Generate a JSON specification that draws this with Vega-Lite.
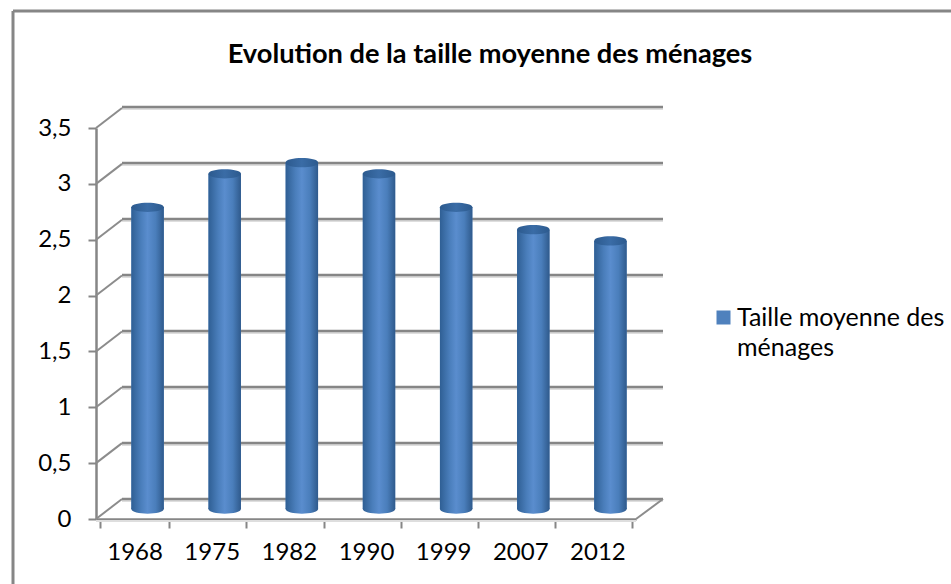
{"$schema":"https://vega.github.io/schema/vega-lite/v6.json","width":938,"height":573,"autosize":{"type":"none"},"padding":{"left":13,"top":11,"right":0,"bottom":0},"background":"white","view":{"stroke":null},
"title":{"text":"Evolution de la taille moyenne des ménages","font":"Lato","fontWeight":"bold","fontSize":27.2,"color":"#000000","anchor":"middle","dx":8,"offset":-81,"baseline":"alphabetic"},
"datasets":{
"bars":[{"annee":"1968","taille":2.7,"serie":"Taille moyenne des ménages"},{"annee":"1975","taille":3.0,"serie":"Taille moyenne des ménages"},{"annee":"1982","taille":3.1,"serie":"Taille moyenne des ménages"},{"annee":"1990","taille":3.0,"serie":"Taille moyenne des ménages"},{"annee":"1999","taille":2.7,"serie":"Taille moyenne des ménages"},{"annee":"2007","taille":2.5,"serie":"Taille moyenne des ménages"},{"annee":"2012","taille":2.4,"serie":"Taille moyenne des ménages"}],
"grille":[{"niveau":0},{"niveau":0.5},{"niveau":1},{"niveau":1.5},{"niveau":2},{"niveau":2.5},{"niveau":3},{"niveau":3.5}],
"mur":[{"niveau":0,"prof":0,"haut":0},{"niveau":0,"prof":1,"haut":0.179},{"niveau":0.5,"prof":0,"haut":0.5},{"niveau":0.5,"prof":1,"haut":0.679},{"niveau":1,"prof":0,"haut":1},{"niveau":1,"prof":1,"haut":1.179},{"niveau":1.5,"prof":0,"haut":1.5},{"niveau":1.5,"prof":1,"haut":1.679},{"niveau":2,"prof":0,"haut":2},{"niveau":2,"prof":1,"haut":2.179},{"niveau":2.5,"prof":0,"haut":2.5},{"niveau":2.5,"prof":1,"haut":2.679},{"niveau":3,"prof":0,"haut":3},{"niveau":3,"prof":1,"haut":3.179},{"niveau":3.5,"prof":0,"haut":3.5},{"niveau":3.5,"prof":1,"haut":3.679}],
"sol":[{"prof":0,"haut":0},{"prof":1,"haut":0.179}]
},
"resolve":{"scale":{"x":"independent","y":"independent","color":"independent"},"axis":{"x":"independent","y":"independent"}},
"layer":[
{"data":{"values":[{"k":0}]},"mark":{"type":"rule","stroke":"#868686","strokeWidth":3},"encoding":{"x":{"datum":0,"type":"quantitative","scale":{"domain":[0,1],"range":[0,938]},"axis":null}}},
{"data":{"values":[{"k":0}]},"mark":{"type":"rule","stroke":"#868686","strokeWidth":3},"encoding":{"y":{"datum":0,"type":"quantitative","scale":{"domain":[0,1],"range":[0,573]},"axis":null}}},
{"data":{"name":"grille"},"mark":{"type":"rule","stroke":"#dedede","strokeWidth":2},"encoding":{"x":{"datum":0,"type":"quantitative","scale":{"domain":[0,1],"range":[109,650]},"axis":null},"x2":{"datum":1},"y":{"field":"niveau","type":"quantitative","scale":{"domain":[0,3.5],"range":[490,98]},"axis":null}}},
{"data":{"values":[{"niveau":0}]},"mark":{"type":"rule","stroke":"#dedede","strokeWidth":2},"encoding":{"x":{"datum":0,"type":"quantitative","scale":{"domain":[0,1],"range":[83,623]},"axis":null},"x2":{"datum":1},"y":{"field":"niveau","type":"quantitative","scale":{"domain":[0,3.5],"range":[510,119]},"axis":null}}},
{"data":{"name":"grille"},"mark":{"type":"rule","stroke":"#868686","strokeWidth":2.5},"encoding":{"x":{"datum":0,"type":"quantitative","scale":{"domain":[0,1],"range":[109,650]},"axis":null},"x2":{"datum":1},"y":{"field":"niveau","type":"quantitative","scale":{"domain":[0,3.5],"range":[488,96]},"axis":null}}},
{"data":{"name":"mur"},"mark":{"type":"line","stroke":"#8c8c8c","strokeWidth":2},"encoding":{"detail":{"field":"niveau"},"x":{"field":"prof","type":"quantitative","scale":{"domain":[0,1],"range":[83,109]},"axis":null},"y":{"field":"haut","type":"quantitative","scale":{"domain":[0,3.5],"range":[508,117]},"axis":{"values":[0,0.5,1,1.5,2,2.5,3,3.5],"orient":"left","offset":-83,"grid":false,"title":null,"domainColor":"#868686","domainWidth":2.5,"tickColor":"#868686","tickWidth":2,"tickSize":8,"labelPadding":17,"labelFont":"Lato","labelFontSize":24,"labelColor":"#000000","labelExpr":"replace(format(datum.value,'~g'),'.',',')"}}}},
{"data":{"name":"sol"},"mark":{"type":"line","stroke":"#8c8c8c","strokeWidth":2},"encoding":{"x":{"field":"prof","type":"quantitative","scale":{"domain":[0,1],"range":[623,650]},"axis":null},"y":{"field":"haut","type":"quantitative","scale":{"domain":[0,3.5],"range":[508,117]},"axis":null}}},
{"data":{"name":"bars"},"mark":{"type":"bar","opacity":0},"encoding":{"x":{"field":"annee","type":"nominal","scale":{"type":"band","range":[83,623]},"axis":{"orient":"bottom","offset":-65,"title":null,"labelAngle":0,"tickBand":"extent","domainColor":"#868686","domainWidth":2.5,"tickColor":"#868686","tickWidth":2,"tickSize":9,"labelPadding":12,"labelFont":"Lato","labelFontSize":24,"labelColor":"#000000"}},"y":{"field":"taille","type":"quantitative","scale":{"domain":[0,3.5],"range":[508,117]},"axis":null}}},
{"data":{"name":"bars"},"mark":{"type":"bar"},"encoding":{"x":{"field":"annee","type":"nominal","scale":{"type":"band","range":[96,636],"paddingInner":0.58,"paddingOuter":0.29},"axis":null},"y":{"field":"taille","type":"quantitative","scale":{"domain":[0,3.5],"range":[498,107]},"axis":null},"color":{"field":"serie","type":"nominal","scale":{"range":["#4f81bd"]},"legend":{"orient":"none","legendX":698,"legendY":294,"title":null,"symbolType":"square","symbolSize":196,"symbolOpacity":1,"symbolStrokeWidth":0,"labelFont":"Lato","labelFontSize":25,"labelColor":"#000000","labelLimit":300,"labelOffset":1,"labelExpr":"['Taille moyenne des','ménages']","encode":{"labels":{"update":{"lineHeight":{"value":30}}}}}}}},
{"data":{"name":"bars"},"mark":{"type":"point","filled":true,"opacity":1,"size":1056,"shape":"M-1,0C-1,-0.38 1,-0.38 1,0C1,0.38 -1,0.38 -1,0Z","fill":{"gradient":"linear","x1":0,"x2":1,"y1":0,"y2":0,"stops":[{"offset":0,"color":"#2f5f94"},{"offset":0.3,"color":"#4a7ebb"},{"offset":0.5,"color":"#5a8dce"},{"offset":0.75,"color":"#4a7ebb"},{"offset":1,"color":"#2f5a8c"}]}},"encoding":{"x":{"field":"annee","type":"nominal","scale":{"type":"band","range":[96,636],"paddingInner":0.58,"paddingOuter":0.29},"axis":null},"y":{"datum":0,"type":"quantitative","scale":{"domain":[0,3.5],"range":[498,107]},"axis":null}}},
{"data":{"name":"bars"},"mark":{"type":"bar","fill":{"gradient":"linear","x1":0,"x2":1,"y1":0,"y2":0,"stops":[{"offset":0,"color":"#2f5f94"},{"offset":0.3,"color":"#4a7ebb"},{"offset":0.5,"color":"#5a8dce"},{"offset":0.75,"color":"#4a7ebb"},{"offset":1,"color":"#2f5a8c"}]}},"encoding":{"x":{"field":"annee","type":"nominal","scale":{"type":"band","range":[96,636],"paddingInner":0.58,"paddingOuter":0.29},"axis":null},"y":{"field":"taille","type":"quantitative","scale":{"domain":[0,3.5],"range":[498,107]},"axis":null}}},
{"data":{"name":"bars"},"mark":{"type":"point","filled":true,"opacity":1,"size":1056,"shape":"M-1,0C-1,-0.38 1,-0.38 1,0C1,0.38 -1,0.38 -1,0Z","fill":{"gradient":"linear","x1":0,"x2":1,"y1":0,"y2":0,"stops":[{"offset":0,"color":"#2c5a8e"},{"offset":0.5,"color":"#3a6ca6"},{"offset":1,"color":"#2c5a8e"}]}},"encoding":{"x":{"field":"annee","type":"nominal","scale":{"type":"band","range":[96,636],"paddingInner":0.58,"paddingOuter":0.29},"axis":null},"y":{"field":"taille","type":"quantitative","scale":{"domain":[0,3.5],"range":[498,107]},"axis":null}}}
]}
